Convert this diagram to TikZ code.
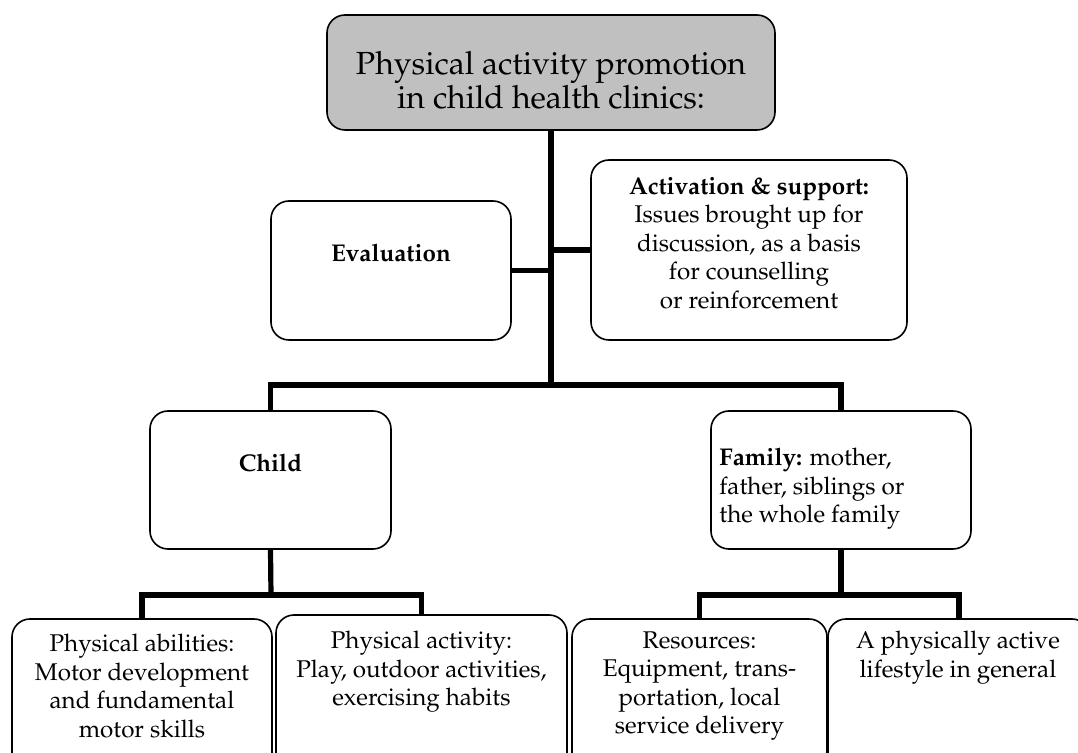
\documentclass[tikz,border=0pt]{standalone}
\usepackage[T1]{fontenc}
\usepackage{mathpazo}
\usetikzlibrary{positioning,calc}
\definecolor{boxgray}{rgb}{0.753,0.753,0.753}

\begin{document}
\begin{tikzpicture}
  [x=0.5pt,y=-0.5pt,
   boxN/.style={draw,rounded corners=9pt,line width=0.8pt,inner sep=0pt,fill=white},
   textN/.style={inner sep=0pt,align=center,font=\fontsize{12.1}{14.3}\selectfont},
   link/.style={line width=2.6pt}]

  \clip (0,0) rectangle (1078,753);
  \useasboundingbox (0,0) rectangle (1078,753);

  % boxes
  \node[boxN,fill=boxgray,minimum width=224pt,minimum height=57.5pt] (title) at (551,72.5) {};
  \node[boxN,minimum width=120pt,minimum height=69.5pt] (eval) at (391,270.5) {};
  \node[boxN,minimum width=158pt,minimum height=90pt] (activ) at (749,250) {};
  \node[boxN,minimum width=120.5pt,minimum height=69pt] (child) at (270.5,480) {};
  \node[boxN,minimum width=130pt,minimum height=69pt] (family) at (841,480) {};
  \node[boxN,minimum width=130pt,minimum height=80pt] (abil) at (142,699) {};
  \node[boxN,minimum width=145.5pt,minimum height=82pt] (activity) at (421.5,697) {};
  \node[boxN,minimum width=127.5pt,minimum height=80pt] (resources) at (699.5,699) {};
  \node[boxN,minimum width=131pt,minimum height=80pt] (lifestyle) at (959,699) {};

  % texts
  \node[textN,font=\fontsize{16}{15}\selectfont] (titleT) at (551,80)
    {Physical activity promotion\\in child health clinics:};
  \node[textN] (evalT) at (391,253) {\textbf{Evaluation}};
  \node[textN] (activT) at (749,243)
    {\textbf{Activation \& support:}\\Issues brought up for\\discussion, as a basis\\for counselling\\or reinforcement};
  \node[textN] (childT) at (270.5,463) {\textbf{Child}};
  \node[textN,align=left,anchor=west] (familyT) at (719,489)
    {\textbf{Family:} mother,\\father, siblings or\\the whole family};
  \node[textN] (abilT) at (142,686)
    {Physical abilities:\\Motor development\\and fundamental\\motor skills};
  \node[textN] (activityT) at (421.5,672)
    {Physical activity:\\Play, outdoor activities,\\exercising habits};
  \node[textN] (resourcesT) at (699.5,686)
    {Resources:\\Equipment, trans-\\portation, local\\service delivery};
  \node[textN] (lifestyleT) at (958,657.5)
    {A physically active\\lifestyle in general};

  % connectors
  \coordinate (hub) at (551,385);
  \coordinate (cbus) at (271,595);
  \coordinate (fbus) at (841,595);

  \draw[link] (title.south) -- (hub);
  \draw[link] (eval.east) -- (eval.east -| hub);
  \draw[link] (activ.west) -- (activ.west -| hub);
  \draw[link] (child.north) |- (hub) -| (family.north);
  \draw[link] (child.south) -- (cbus);
  \draw[link] (abil.north) |- (cbus) -| (activity.north);
  \draw[link] (family.south) -- (fbus);
  \draw[link] (resources.north) |- (fbus) -| (lifestyle.north);

\end{tikzpicture}
\end{document}
